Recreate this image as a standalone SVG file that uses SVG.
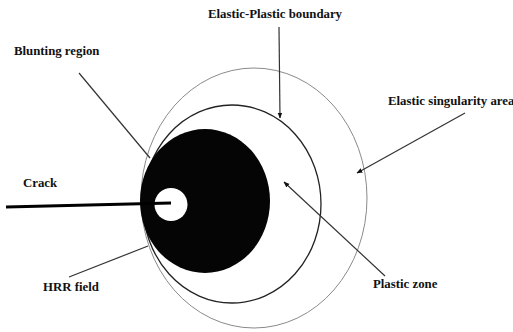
<svg xmlns="http://www.w3.org/2000/svg" width="513" height="332" viewBox="0 0 513 332">
<style>
.lbl{font-family:"Liberation Serif","Times New Roman",serif;font-weight:bold;font-size:12.8px;fill:#111}
.ln{stroke:#333;stroke-width:1.2;fill:none}
</style>
<defs>
<marker id="ah" viewBox="0 0 10 10" refX="9" refY="5" markerWidth="6" markerHeight="6" markerUnits="userSpaceOnUse" orient="auto">
<path d="M0,1 L10,5 L0,9 Z" fill="#111"/>
</marker>
</defs>
<rect width="513" height="332" fill="#fff"/>
<g id="elastic-singularity-area"><ellipse cx="254" cy="198" rx="113" ry="130" fill="none" stroke="#8a8a8a" stroke-width="1"/></g>
<g id="elastic-plastic-boundary"><ellipse cx="232" cy="204" rx="89" ry="99" fill="none" stroke="#222" stroke-width="1.3"/></g>
<g id="hrr-field"><ellipse cx="205" cy="201" rx="65" ry="72" fill="#050505"/></g>
<g id="blunting-hole"><circle cx="171" cy="204.5" r="16.5" fill="#fff"/></g>
<g id="crack"><line x1="6" y1="207" x2="171" y2="203" stroke="#000" stroke-width="3"/></g>
<g id="labels">
<text class="lbl" x="14" y="55">Blunting region</text>
<text class="lbl" x="208" y="18">Elastic-Plastic boundary</text>
<text class="lbl" x="388" y="105">Elastic singularity area</text>
<text class="lbl" x="23" y="187">Crack</text>
<text class="lbl" x="43" y="291">HRR field</text>
<text class="lbl" x="373" y="288">Plastic zone</text>
</g>
<g id="connectors">
<line class="ln" x1="79" y1="73" x2="150" y2="158"/>
<line class="ln" x1="69" y1="277" x2="148" y2="246"/>
<line class="ln" x1="279" y1="27" x2="280" y2="118" marker-end="url(#ah)"/>
<line class="ln" x1="465" y1="113" x2="357" y2="173" marker-end="url(#ah)"/>
<line class="ln" x1="385" y1="276" x2="284" y2="182" marker-end="url(#ah)"/>
</g>
</svg>
